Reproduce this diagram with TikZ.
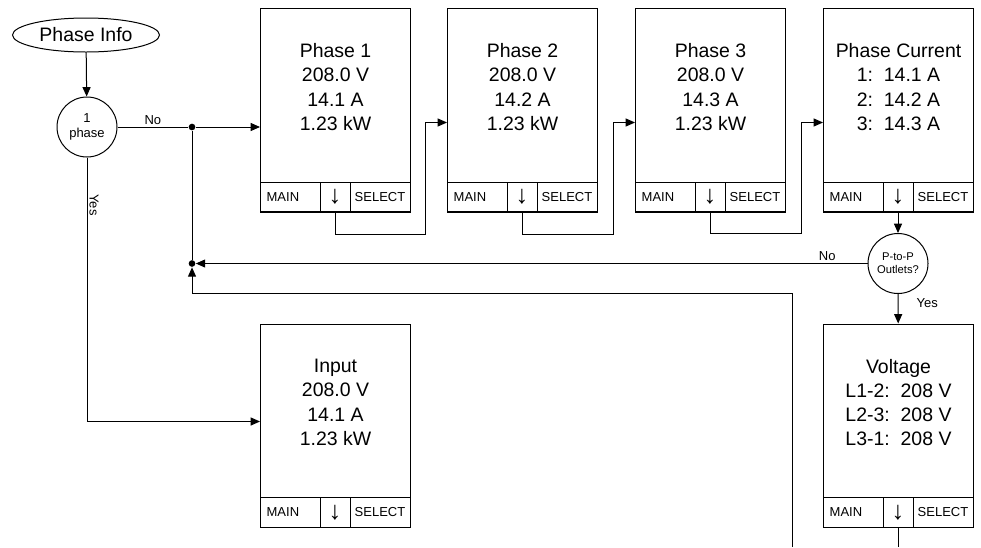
\documentclass[tikz,border=0pt]{standalone}
\usepackage{fontspec}
\setmainfont{Liberation Sans}
\usetikzlibrary{positioning, arrows.meta, shapes.geometric}
\tikzset{
	>={Triangle[length=7pt, width=6pt]}, % filled arrow heads
	screenbox/.style={draw, rectangle, anchor=north west, minimum width=112.5pt, minimum height=152.25pt, inner sep=0pt},
	readout/.style={align=center, inner sep=0pt, font=\fontsize{14.6}{18.2}\selectfont},
	keyleft/.style={draw, anchor=south west, outer sep=0pt, minimum height=22.5pt, inner xsep=5pt, inner ysep=0pt, text width=35pt, align=left, font=\fontsize{9.75}{11}\selectfont},
	keymid/.style={draw, outer sep=0pt, minimum width=22.5pt, minimum height=22.5pt, inner sep=0pt, font=\fontsize{19}{19}\selectfont},
	keyright/.style={draw, outer sep=0pt, minimum width=45pt, minimum height=22.5pt, inner sep=0pt, font=\fontsize{9.75}{11}\selectfont},
	decision/.style={draw, circle, minimum size=45pt, inner sep=0pt, align=center},
	junction/.style={circle, fill, minimum size=5pt, inner sep=0pt},
	lbl/.style={inner sep=1.5pt, font=\fontsize{9.75}{11}\selectfont},
}
% one display screen with its three keys
\newcommand{\screen}[3]{%
	\node[screenbox] (#1) at (#2) {};
	\node[readout] (#1txt) at ([yshift=-59.25pt]#1.north) {#3};
	\node[keyleft] (#1main) at (#1.south west) {MAIN};
	\node[keymid, right=0pt of #1main] (#1down) {↓};
	\node[keyright, right=0pt of #1down] (#1sel) {SELECT};
}

\begin{document}
\begin{tikzpicture}[x=0.75pt, y=-0.75pt, line width=0.75pt]
	\useasboundingbox (0,0) rectangle (981,547);

	\node[ellipse, draw, minimum width=110.25pt, minimum height=25.5pt, inner sep=0pt, font=\fontsize{14.6}{18}\selectfont] (info) at (86,35) {Phase Info};
	\node[decision, font=\fontsize{9.75}{11.25}\selectfont] (dec1) at (87,127) {1\\phase};
	\node[decision, font=\fontsize{8.4}{9.75}\selectfont] (dec2) at (898,263.5) {P-to-P\\Outlets?};
	\node[junction] (dot1) at (192,127) {};
	\node[junction] (dot2) at (192,263.5) {};

	\screen{p1}{260,8}{Phase 1\\208.0 V\\14.1 A\\1.23 kW}
	\screen{p2}{447,8}{Phase 2\\208.0 V\\14.2 A\\1.23 kW}
	\screen{p3}{635,8}{Phase 3\\208.0 V\\14.3 A\\1.23 kW}
	\screen{pc}{823,8}{Phase Current\\1:~~14.1 A\\2:~~14.2 A\\3:~~14.3 A}
	\screen{in}{260,323.5}{Input\\208.0 V\\14.1 A\\1.23 kW}
	\screen{vol}{823,323.5}{Voltage\\L1-2:~~208 V\\L2-3:~~208 V\\L3-1:~~208 V}

	\coordinate (retc) at (192,293.5);
	\coordinate (ret) at (792,547);
	\coordinate (volout) at (898,547);

	\draw[->] (info) -- (dec1);
	\draw (dec1) -- node[lbl, above]{No} (dot1);
	\draw[->] (dot1) -- (dot1 -| p1.west);
	\draw (dot1) -- (dot2);
	\draw[->] (dec1) |- node[lbl, pos=0.09, rotate=-90, anchor=south]{Yes} ([yshift=3pt]in.west);
	\draw[->] (p1down.south) |- ++(90,22) |- ([yshift=-9.375pt]p2.west);
	\draw[->] (p2down.south) |- ++(91,22) |- ([yshift=-9.375pt]p3.west);
	\draw[->] (p3down.south) |- ++(91,21) |- ([yshift=-9.375pt]pc.west);
	\draw[->] (pcdown) -- (dec2);
	\draw[->] (dec2) -- node[lbl, pos=0.06, above]{No} (dot2);
	\draw[->] (dec2) -- node[lbl, pos=0.32, right=12pt]{Yes} (vol);
	\draw[->] (ret) |- (retc) -- (dot2);
	\draw (voldown) -- (volout);
\end{tikzpicture}
\end{document}
